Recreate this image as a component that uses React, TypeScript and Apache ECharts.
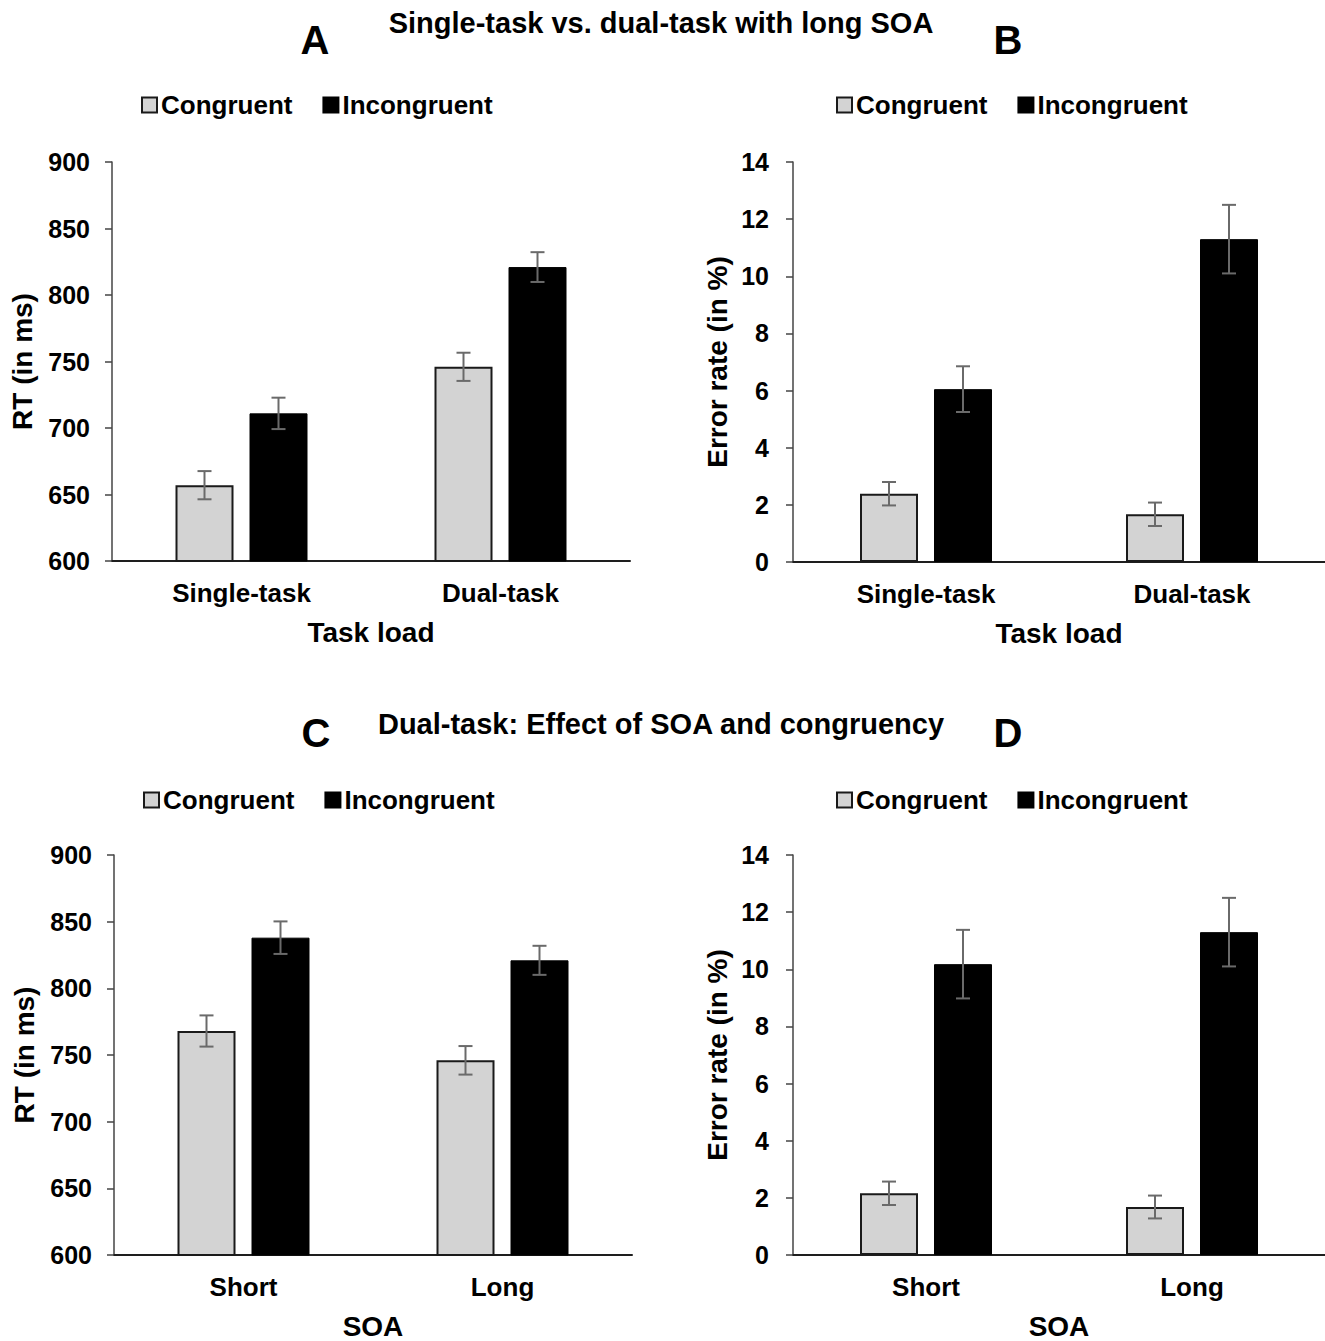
import React, { useEffect, useRef } from "react";
import * as echarts from "echarts";

// ---------- data ----------
const taskLoadCategories = ["Single-task", "Dual-task"];
const soaCategories = ["Short", "Long"];
const legendNames = ["Congruent", "Incongruent"];

// Panel A: RT by task load
const rtCongruentA = [657, 746];
const rtIncongruentA = [711, 821];
const rtCongruentErrA = [10.6, 10.6];
const rtIncongruentErrA = [11.8, 11.2];

// Panel B: error rate by task load
const erCongruentB = [2.39, 1.67];
const erIncongruentB = [6.05, 11.3];
const erCongruentErrB = [0.41, 0.41];
const erIncongruentErrB = [0.8, 1.2];

// Panel C: RT by SOA
const rtCongruentC = [768, 746];
const rtIncongruentC = [838, 821];
const rtCongruentErrC = [11.7, 10.7];
const rtIncongruentErrC = [12.2, 10.9];

// Panel D: error rate by SOA
const erCongruentD = [2.16, 1.68];
const erIncongruentD = [10.18, 11.3];
const erCongruentErrD = [0.41, 0.4];
const erIncongruentErrD = [1.2, 1.2];

const rtAxis = { min: 600, max: 900, interval: 50 };
const erAxis = { min: 0, max: 14, interval: 2 };

const titleTop = "Single-task vs. dual-task with long SOA";
const titleBottom = "Dual-task: Effect of SOA and congruency";

// ---------- style ----------
const FONT = "'Liberation Sans', Arial, Helvetica, sans-serif";
const BAR_WIDTH = 58;
const BAR_GAP = 16;
const CONG_FILL = "#d3d3d3";
const INC_FILL = "#000000";
const ERR_COLOR = "#6a6a6a";

type Panel = {
  grid: { left: number; top: number; width: number; height: number };
  cats: string[];
  axis: { min: number; max: number; interval: number };
  yName: string;
  xName: string;
  yNameGap: number;
  labelMargin: number;
  cong: number[];
  inc: number[];
  congErr: number[];
  incErr: number[];
  legend: { left: number; top: number };
};

const panels: Panel[] = [
  {
    grid: { left: 112, top: 162, width: 518, height: 399 },
    cats: taskLoadCategories, axis: rtAxis, yName: "RT (in ms)", xName: "Task load",
    yNameGap: 76, labelMargin: 22,
    cong: rtCongruentA, inc: rtIncongruentA, congErr: rtCongruentErrA, incErr: rtIncongruentErrA,
    legend: { left: 141, top: 92 },
  },
  {
    grid: { left: 793, top: 162, width: 532, height: 400 },
    cats: taskLoadCategories, axis: erAxis, yName: "Error rate (in %)", xName: "Task load",
    yNameGap: 62, labelMargin: 24,
    cong: erCongruentB, inc: erIncongruentB, congErr: erCongruentErrB, incErr: erIncongruentErrB,
    legend: { left: 836, top: 92 },
  },
  {
    grid: { left: 114, top: 855, width: 518, height: 401 },
    cats: soaCategories, axis: rtAxis, yName: "RT (in ms)", xName: "SOA",
    yNameGap: 76, labelMargin: 22,
    cong: rtCongruentC, inc: rtIncongruentC, congErr: rtCongruentErrC, incErr: rtIncongruentErrC,
    legend: { left: 143, top: 787 },
  },
  {
    grid: { left: 793, top: 855, width: 532, height: 401 },
    cats: soaCategories, axis: erAxis, yName: "Error rate (in %)", xName: "SOA",
    yNameGap: 62, labelMargin: 24,
    cong: erCongruentD, inc: erIncongruentD, congErr: erCongruentErrD, incErr: erIncongruentErrD,
    legend: { left: 836, top: 787 },
  },
];

function errorSeries(idx: number, means: number[], errs: number[], offset: number) {
  return {
    type: "custom",
    name: `err-${idx}-${offset}`,
    xAxisIndex: idx,
    yAxisIndex: idx,
    z: 10,
    silent: true,
    data: means.map((m, i) => [i, m, errs[i]]),
    encode: { x: 0, y: 1 },
    renderItem: (params: any, api: any) => {
      const c = api.value(0);
      const m = api.value(1);
      const e = api.value(2);
      const x = api.coord([c, m])[0] + offset;
      const yHi = api.coord([c, m + e])[1];
      const yLo = api.coord([c, m - e])[1];
      const cap = 7;
      const style = { stroke: ERR_COLOR, lineWidth: 2 };
      return {
        type: "group",
        children: [
          { type: "line", shape: { x1: x, y1: yHi, x2: x, y2: yLo }, style },
          { type: "line", shape: { x1: x - cap, y1: yHi, x2: x + cap, y2: yHi }, style },
          { type: "line", shape: { x1: x - cap, y1: yLo, x2: x + cap, y2: yLo }, style },
        ],
      };
    },
  };
}

function buildOption() {
  const half = (BAR_WIDTH + BAR_GAP) / 2;
  const grid: any[] = [];
  const xAxis: any[] = [];
  const yAxis: any[] = [];
  const series: any[] = [];
  const legend: any[] = [];

  panels.forEach((p, idx) => {
    grid.push({ ...p.grid, containLabel: false });
    xAxis.push({
      type: "category",
      gridIndex: idx,
      data: p.cats,
      axisLine: { show: true, lineStyle: { color: "#1e1e1e", width: 2 } },
      axisTick: { show: false },
      axisLabel: { fontSize: 26, fontWeight: "bold", color: "#000", fontFamily: FONT, margin: 19 },
      name: p.xName,
      nameLocation: "middle",
      nameGap: 57,
      nameTextStyle: { fontSize: 28, fontWeight: "bold", color: "#000", fontFamily: FONT },
    });
    yAxis.push({
      type: "value",
      gridIndex: idx,
      min: p.axis.min,
      max: p.axis.max,
      interval: p.axis.interval,
      axisLine: { show: true, lineStyle: { color: "#444", width: 1.5 } },
      axisTick: { show: true, length: 7, lineStyle: { color: "#444", width: 1.5 } },
      splitLine: { show: false },
      axisLabel: { fontSize: 25, fontWeight: "bold", color: "#000", fontFamily: FONT, margin: p.labelMargin },
      name: p.yName,
      nameLocation: "middle",
      nameGap: p.yNameGap,
      nameTextStyle: { fontSize: 28, fontWeight: "bold", color: "#000", fontFamily: FONT },
    });
    series.push({
      type: "bar",
      name: legendNames[0],
      xAxisIndex: idx,
      yAxisIndex: idx,
      data: p.cong,
      barWidth: BAR_WIDTH,
      barGap: `${(BAR_GAP / BAR_WIDTH) * 100}%`,
      itemStyle: { color: CONG_FILL, borderColor: "#1a1a1a", borderWidth: 2 },
    });
    series.push({
      type: "bar",
      name: legendNames[1],
      xAxisIndex: idx,
      yAxisIndex: idx,
      data: p.inc,
      barWidth: BAR_WIDTH,
      barGap: `${(BAR_GAP / BAR_WIDTH) * 100}%`,
      itemStyle: { color: INC_FILL, borderColor: "#000", borderWidth: 1 },
    });
    series.push(errorSeries(idx, p.cong, p.congErr, -half));
    series.push(errorSeries(idx, p.inc, p.incErr, half));
    legend.push({
      data: legendNames,
      left: p.legend.left,
      top: p.legend.top,
      padding: 0,
      orient: "horizontal",
      icon: "rect",
      itemWidth: 15,
      itemHeight: 15,
      itemGap: 30,
      selectedMode: false,
      textStyle: { fontSize: 26, fontWeight: "bold", color: "#000", fontFamily: FONT, padding: [0, 0, 0, -1] },
    });
  });

  const txt = (text: string, x: number, y: number, size: number) => ({
    type: "text",
    x,
    y,
    style: {
      text,
      fontSize: size,
      fontWeight: "bold",
      fontFamily: FONT,
      fill: "#000",
      align: "center",
      verticalAlign: "middle",
    },
  });

  return {
    animation: false,
    backgroundColor: "#ffffff",
    grid,
    xAxis,
    yAxis,
    series,
    legend,
    graphic: [
      txt(titleTop, 661, 23, 29),
      txt("A", 315, 40, 40),
      txt("B", 1008, 40, 40),
      txt(titleBottom, 661, 724, 29),
      txt("C", 316, 733, 40),
      txt("D", 1008, 733, 40),
    ],
  };
}

export default function App() {
  const ref = useRef<HTMLDivElement>(null);
  useEffect(() => {
    if (!ref.current) return;
    const chart = echarts.init(ref.current, undefined, { renderer: "svg" });
    chart.setOption(buildOption() as any);
    return () => chart.dispose();
  }, []);
  return (
    <div
      ref={ref}
      style={{ position: "absolute", left: 0, top: 0, width: 1325, height: 1341, background: "#fff" }}
    />
  );
}
